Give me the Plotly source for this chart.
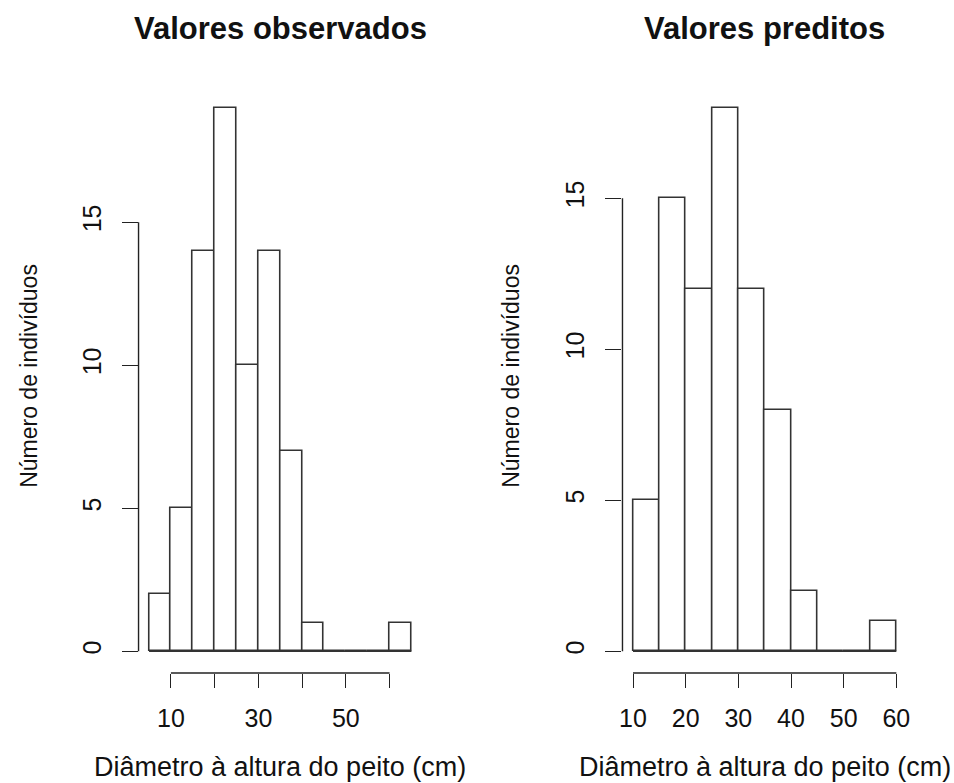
import plotly.graph_objects as go

# Histogram data: class breaks (cm) and counts per class
breaks_obs = [5, 10, 15, 20, 25, 30, 35, 40, 45, 50, 55, 60, 65]
counts_obs = [2, 5, 14, 19, 10, 14, 7, 1, 0, 0, 0, 1]

breaks_pred = [10, 15, 20, 25, 30, 35, 40, 45, 50, 55, 60]
counts_pred = [5, 15, 12, 18, 12, 8, 2, 0, 0, 1]

x_ticks = [10, 20, 30, 40, 50, 60]
x_labels_obs = ["10", "", "30", "", "50", ""]
x_labels_pred = ["10", "20", "30", "40", "50", "60"]
y_ticks = [0, 5, 10, 15]

titles = ["Valores observados", "Valores preditos"]
x_title = "Diâmetro à altura do peito (cm)"
y_title = "Número de indivíduos"

W, H = 954, 783
FONT = "Liberation Sans, Arial, Helvetica, sans-serif"
INK = "#222222"

fig = go.Figure()


def add_hist(breaks, counts, xa, ya):
    mids = [(a + b) / 2 for a, b in zip(breaks[:-1], breaks[1:])]
    widths = [b - a for a, b in zip(breaks[:-1], breaks[1:])]
    fig.add_trace(go.Bar(
        x=mids, y=counts, width=widths,
        marker=dict(color="white", line=dict(color="#333333", width=1.6)),
        xaxis=xa, yaxis=ya, showlegend=False, hoverinfo="x+y",
    ))
    # baseline under the empty classes
    fig.add_trace(go.Scatter(
        x=[breaks[0], breaks[-1]], y=[0, 0], mode="lines",
        line=dict(color="#333333", width=1.6),
        xaxis=xa, yaxis=ya, showlegend=False, hoverinfo="skip",
    ))


add_hist(breaks_obs, counts_obs, "x", "y")
add_hist(breaks_pred, counts_pred, "x2", "y2")


def xrange(breaks):
    span = breaks[-1] - breaks[0]
    return [breaks[0] - 0.04 * span, breaks[-1] + 0.04 * span]


def yrange(counts):
    top = max(counts)
    return [-0.04 * top, top * 1.04]


ydom = [1 - 673 / H, 1 - 86 / H]
common_x = dict(showgrid=False, zeroline=False, showline=False,
                ticks="outside", ticklen=14, tickwidth=1.4, tickcolor=INK,
                tickfont=dict(family=FONT, size=25, color="#111"),
                tickvals=x_ticks, ticklabelstandoff=9, fixedrange=True)
common_y = dict(showgrid=False, zeroline=False, showline=False,
                ticks="outside", ticklen=16, tickwidth=1.4, tickcolor=INK,
                tickfont=dict(family=FONT, size=25, color="#111"),
                tickvals=y_ticks, ticktext=[str(v) for v in y_ticks],
                tickangle=-90, ticklabelstandoff=11, fixedrange=True,
                domain=ydom)

fig.update_layout(
    width=W, height=H,
    margin=dict(l=0, r=0, t=0, b=0),
    paper_bgcolor="white", plot_bgcolor="white",
    bargap=0,
    xaxis=dict(common_x, domain=[136.4 / W, 421.6 / W],
               range=xrange(breaks_obs), ticktext=x_labels_obs, anchor="y"),
    yaxis=dict(common_y, range=yrange(counts_obs), anchor="x"),
    xaxis2=dict(common_x, domain=[623.4 / W, 909.6 / W],
                range=xrange(breaks_pred), ticktext=x_labels_pred, anchor="y2"),
    yaxis2=dict(common_y, range=yrange(counts_pred), anchor="x2"),
)

shapes = []
annotations = []
for i, (xr, yr) in enumerate([("x", "y"), ("x2", "y2")]):
    # axis lines spanning only the tick range
    shapes.append(dict(type="line", xref=xr, yref=f"{yr} domain",
                       x0=x_ticks[0], x1=x_ticks[-1], y0=0, y1=0,
                       line=dict(color=INK, width=1.4)))
    shapes.append(dict(type="line", xref=f"{xr} domain", yref=yr,
                       x0=0, x1=0, y0=y_ticks[0], y1=y_ticks[-1],
                       line=dict(color=INK, width=1.4)))
    annotations.append(dict(text=f"<b>{titles[i]}</b>", xref=f"{xr} domain",
                            x=0.5, yref="paper", y=1 - 29 / H,
                            xanchor="center", yanchor="middle", showarrow=False,
                            font=dict(family=FONT, size=31, color="#111")))
    annotations.append(dict(text=x_title, xref=f"{xr} domain", x=0.5,
                            yref="paper", y=0,
                            xanchor="center", yanchor="bottom", showarrow=False,
                            borderpad=0,
                            font=dict(family=FONT, size=27, color="#111")))
    annotations.append(dict(text=y_title, xref="paper",
                            x=(26 if i == 0 else 511) / W,
                            yref="paper", y=1 - 376 / H, textangle=-90,
                            xanchor="center", yanchor="middle", showarrow=False,
                            font=dict(family=FONT, size=23, color="#111")))

fig.update_layout(shapes=shapes, annotations=annotations)

fig.write_html("out.html")
